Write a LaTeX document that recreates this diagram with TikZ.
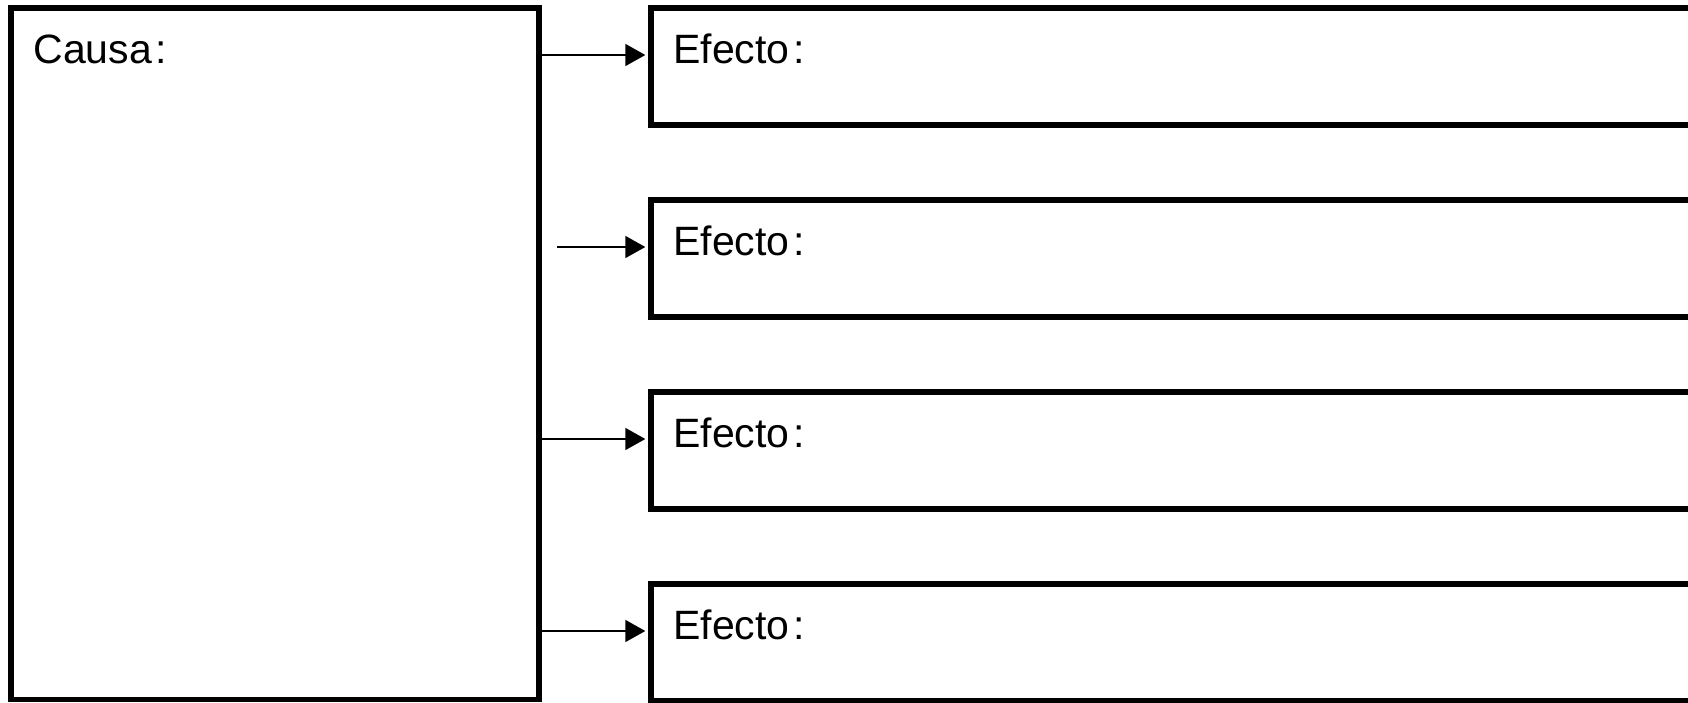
\documentclass[tikz,border=0pt]{standalone}
\usepackage{fontspec}
\setmainfont{Liberation Sans}
\usetikzlibrary{arrows.meta}

\begin{document}
\begin{tikzpicture}[x=0.5pt,y=-0.5pt,
    caja/.style={draw, line width=2.9pt, rectangle, inner sep=0pt},
    flecha/.style={line width=0.8pt, -{Triangle[length=10pt,width=11pt]}, shorten >=1.4pt},
    rotulo/.style={anchor=base west, inner sep=0pt, font=\fontsize{20.5}{24}\selectfont}]
  \useasboundingbox (0,0) rectangle (1688,702);

  % Caja de la causa
  \node[caja, minimum width=264pt, minimum height=345.75pt] (causa) at (275,353.75) {};
  \node[rotulo] (tcausa) at (33,63) {Causa\kern0.1em:};

  % Cajas de los efectos y flechas
  \foreach \i in {1,2,3,4} {
    \node[caja, minimum width=534.5pt, minimum height=58.5pt] (efecto\i) at (1185.5,{66.5+192*(\i-1)}) {};
    \node[rotulo] (tefecto\i) at (673,{63+192*(\i-1)}) {Efecto\kern0.1em:};
    \coordinate (f\i) at (0,{55+192*(\i-1)});
  }
  \draw[flecha] (causa.east |- f1) -- (efecto1.west |- f1);
  \draw[flecha] ([xshift=7.5pt]causa.east |- f2) -- (efecto2.west |- f2);
  \draw[flecha] (causa.east |- f3) -- (efecto3.west |- f3);
  \draw[flecha] (causa.east |- f4) -- (efecto4.west |- f4);

\end{tikzpicture}
\end{document}
